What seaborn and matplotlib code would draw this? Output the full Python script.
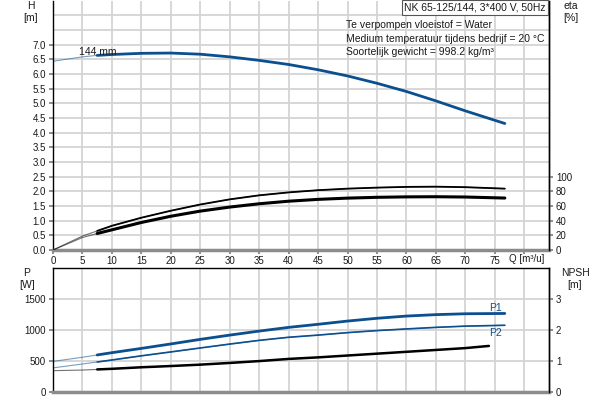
import pandas as pd
import matplotlib.pyplot as plt
import seaborn as sns

# === data ===
q = [0, 5, 7.5, 10, 15, 20, 25, 30, 35, 40, 45, 50, 55, 60, 65, 70, 76.7]
head = [6.43, 6.58, 6.63, 6.66, 6.70, 6.71, 6.67, 6.58, 6.46, 6.32, 6.14,
        5.93, 5.68, 5.40, 5.08, 4.74, 4.31]
eta_upper = [0, 19, 26, 33, 44, 53.5, 62, 69, 74.5, 78.5, 81.5, 83.6, 85,
             86, 86.3, 85.6, 83.6]
eta_lower = [0, 17, 22.5, 27.5, 37.5, 46, 53, 58.5, 63, 66.5, 69, 70.7, 71.8,
             72.4, 72.6, 72.2, 70.8]
p1 = [490, 557, 594, 631, 700, 772, 846, 915, 980, 1040, 1090, 1142, 1187,
      1223, 1246, 1260, 1265]
p2 = [385, 448, 480, 513, 580, 643, 707, 770, 830, 880, 915, 955, 988, 1015,
      1040, 1060, 1074]
q_npsh = [0, 5, 7.5, 10, 15, 20, 25, 30, 35, 40, 45, 50, 55, 60, 65, 70, 74]
npsh = [0.68, 0.70, 0.72, 0.74, 0.79, 0.83, 0.875, 0.93, 0.99, 1.06, 1.11,
        1.17, 1.23, 1.29, 1.35, 1.41, 1.48]

q_ticks = list(range(0, 85, 5))
q_labels = [str(v) for v in range(0, 80, 5)] + ['']

BLUE = '#0b4f8f'
GRID = '#d4d4d4'
TICK = '#808080'

sns.set_theme(style='whitegrid')
plt.rcParams['font.family'] = ['Liberation Sans', 'DejaVu Sans']
plt.rcParams['font.size'] = 7

fig = plt.figure(figsize=(6, 4), dpi=100)
W, H = 600, 400
ax_h = fig.add_axes([53 / W, 1 - 250 / H, 496 / W, 249.5 / H])
ax_p = fig.add_axes([53 / W, 1 - 391.7 / H, 496 / W, 123.7 / H])
ax_eta = ax_h.twinx()
ax_npsh = ax_p.twinx()


def curve(ax, x, y, color, lw, start=7.5):
    df = pd.DataFrame({'Q': x, 'v': y})
    sns.lineplot(data=df, x='Q', y='v', ax=ax, color=color, lw=0.8, alpha=0.55)
    sns.lineplot(data=df[df['Q'] >= start], x='Q', y='v', ax=ax,
                 color=color, lw=lw)
    ax.set_xlabel('')
    ax.set_ylabel('')


curve(ax_h, q, head, BLUE, 2.0)
curve(ax_eta, q, eta_upper, 'black', 1.3)
curve(ax_eta, q, eta_lower, 'black', 2.2)
curve(ax_p, q, p1, BLUE, 2.0)
curve(ax_p, q, p2, BLUE, 1.2)
curve(ax_npsh, q_npsh, npsh, 'black', 1.8)

# === axes layout ===
for ax in (ax_h, ax_p):
    ax.set_xlim(0, 84.2)
    ax.set_xticks(q_ticks)
    ax.grid(True, which='both', color=GRID, lw=1.3)
    ax.set_facecolor('white')
    for s in ('left', 'right', 'top'):
        ax.spines[s].set_color('black')
        ax.spines[s].set_linewidth(1.0)
    ax.spines['bottom'].set_color('#8c8c8c')
    ax.spines['bottom'].set_linewidth(2.5)
    ax.tick_params(axis='y', left=True, length=3, color=TICK, pad=2,
                   labelsize=7, labelcolor='#1a1a1a')

for ax in (ax_eta, ax_npsh):
    ax.grid(False)
    ax.set_xlim(0, 84.2)
    ax.spines['right'].set_color('black')
    ax.spines['right'].set_linewidth(1.0)
    for s in ('left', 'top', 'bottom'):
        ax.spines[s].set_visible(False)
    ax.tick_params(axis='y', right=True, length=3, color=TICK, pad=2,
                   labelsize=7, labelcolor='#1a1a1a')

ax_h.spines['top'].set_visible(False)
ax_h.set_xticklabels(q_labels)
ax_h.tick_params(axis='x', bottom=True, length=3, color=TICK, pad=1.5,
                 labelsize=7, labelcolor='#1a1a1a')
ax_h.set_ylim(0, 8.5)
ax_h.set_yticks([i * 0.5 for i in range(15)])
ax_h.set_yticklabels([f'{i * 0.5:.1f}' for i in range(15)])
ax_h.set_yticks([7.5, 8.0], minor=True)
ax_h.tick_params(axis='y', which='minor', length=0)

ax_eta.set_ylim(0, 340)
ax_eta.set_yticks(range(0, 101, 20))

ax_p.set_xticklabels([])
ax_p.tick_params(axis='x', length=0)
ax_p.set_ylim(0, 2000)
ax_p.set_yticks([0, 500, 1000, 1500])
ax_p.set_yticks([2000], minor=True)
ax_p.tick_params(axis='y', which='minor', length=0)

ax_npsh.set_ylim(0, 4)
ax_npsh.set_yticks([0, 1, 2, 3])


# === labels ===
def px(x, y, s, size=7.5):
    fig.text(x / W, 1 - y / H, s, ha='center', va='center', fontsize=size,
             color='#1a1a1a')


px(31, 6, 'H')
px(31, 18, '[m]')
px(571, 6, 'eta')
px(571, 18, '[%]')
px(27, 273, 'P')
px(27, 285, '[W]')
px(575, 273, 'NPSH')
px(575, 285, '[m]')
px(527, 259, 'Q [m³/u]', size=7)

fig.text(475 / W, 1 - 7.5 / H, 'NK 65-125/144, 3*400 V, 50Hz', ha='center',
         va='center', fontsize=7.5, color='#1a1a1a',
         bbox=dict(boxstyle='square,pad=0.25', fc='white', ec='#555555',
                   lw=0.8))
for y, s in ((25, 'Te verpompen vloeistof = Water'),
             (38.5, 'Medium temperatuur tijdens bedrijf = 20 °C'),
             (52, 'Soortelijk gewicht = 998.2 kg/m³')):
    fig.text(346 / W, 1 - y / H, s, ha='left', va='center', fontsize=7.5,
             color='#1a1a1a')

ax_h.text(4.4, 6.75, '144 mm', ha='left', va='center', fontsize=7.5,
          color='#1a1a1a')
ax_p.text(74.1, 1359, 'P1', ha='left', va='center', fontsize=7.5, color=BLUE)
ax_p.text(74.1, 945, 'P2', ha='left', va='center', fontsize=7.5, color=BLUE)

fig.savefig('out.png', dpi=100)
plt.close(fig)
